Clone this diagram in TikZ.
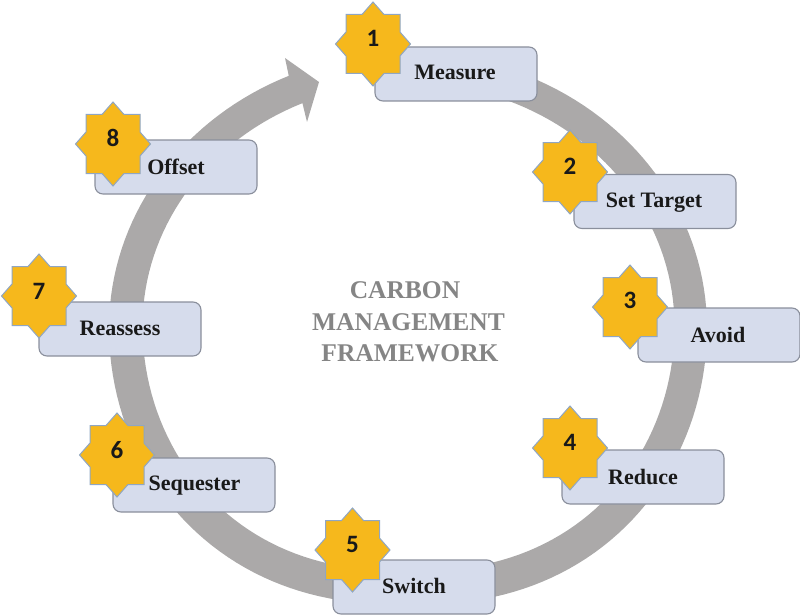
\documentclass[tikz,border=0pt]{standalone}
\usepackage{fontspec}
\setmainfont{Liberation Serif}
\newfontfamily\numfont{Carlito}
\definecolor{ringc}{HTML}{ABA9A9}
\definecolor{boxc}{HTML}{D6DCEC}
\definecolor{boxl}{HTML}{8A8F9C}
\definecolor{starc}{HTML}{F6B81C}
\definecolor{starl}{HTML}{8FA6C4}
\definecolor{titlec}{HTML}{858585}
\tikzset{
  stepbox/.style={draw=boxl,line width=1.1pt,fill=boxc,rounded corners=8pt,minimum width=162pt,minimum height=54pt,inner sep=0pt},
  steplabel/.style={font=\fontsize{22}{24}\selectfont\bfseries,inner sep=0pt,text=black!90,anchor=base},
  stepstar/.style={draw=starl,line width=1pt,fill=starc,line join=miter},
  stepnum/.style={font=\numfont\fontsize{25}{27}\selectfont\bfseries,text=black!90,inner sep=0pt},
  titletext/.style={font=\fontsize{25.5}{28}\selectfont\bfseries,text=titlec,inner sep=0pt,anchor=base}
}
\newcommand\starshape[1]{\draw[stepstar,shift={(#1)}] (0,-42)--(11,-29.5)--(27,-29.5)--(27,-12)--(37.5,0)--(27,12)--(27,29.5)--(11,29.5)--(0,42)--(-11,29.5)--(-27,29.5)--(-27,12)--(-37.5,0)--(-27,-12)--(-27,-29.5)--(-11,-29.5)--cycle;}
\begin{document}
\begin{tikzpicture}[x=1pt,y=-1pt]
\useasboundingbox (0,0) rectangle (800,615);
\fill[ringc] plot[domain=-70:246.5,samples=160] ({408+299*cos(\x)},{328+275*sin(\x)+20*max(0,sin(\x))*abs(cos(\x))})
  -- (285,58) -- (319,82) -- (307,122)
  -- plot[domain=246.5:-70,samples=160] ({408.5+266*cos(\x)},{326+243*sin(\x)+20*max(0,sin(\x))*abs(cos(\x))}) -- cycle;
\node[stepbox] (b1) at (456,74) {};
\node[stepbox] (b2) at (655,201.5) {};
\node[stepbox] (b3) at (719,335) {};
\node[stepbox] (b4) at (643,477) {};
\node[stepbox] (b5) at (414,587) {};
\node[stepbox] (b6) at (194,485) {};
\node[stepbox] (b7) at (120,329) {};
\node[stepbox] (b8) at (176,167) {};
\node[steplabel] (l1) at (455,80) {Measure};
\node[steplabel] (l2) at (654,207) {Set Target};
\node[steplabel] (l3) at (718,342) {Avoid};
\node[steplabel] (l4) at (643,484) {Reduce};
\node[steplabel] (l5) at (414,593) {Switch};
\node[steplabel] (l6) at (194.5,490) {Sequester};
\node[steplabel] (l7) at (120,335) {Reassess};
\node[steplabel] (l8) at (176,174) {Offset};
\starshape{373,44}
\starshape{570,172}
\starshape{630,307}
\starshape{570,448}
\starshape{352.5,550}
\starshape{117,455}
\starshape{39,296}
\starshape{113,144}
\node[stepnum] (n1) at (373,38) {1};
\node[stepnum] (n2) at (570,166) {2};
\node[stepnum] (n3) at (630,300) {3};
\node[stepnum] (n4) at (570,442) {4};
\node[stepnum] (n5) at (352.5,544) {5};
\node[stepnum] (n6) at (117,450) {6};
\node[stepnum] (n7) at (39,291) {7};
\node[stepnum] (n8) at (113,138) {8};
\node[titletext] (t1) at (405,298) {CARBON};
\node[titletext] (t2) at (408.5,330) {MANAGEMENT};
\node[titletext] (t3) at (410,361) {FRAMEWORK};
\end{tikzpicture}
\end{document}
